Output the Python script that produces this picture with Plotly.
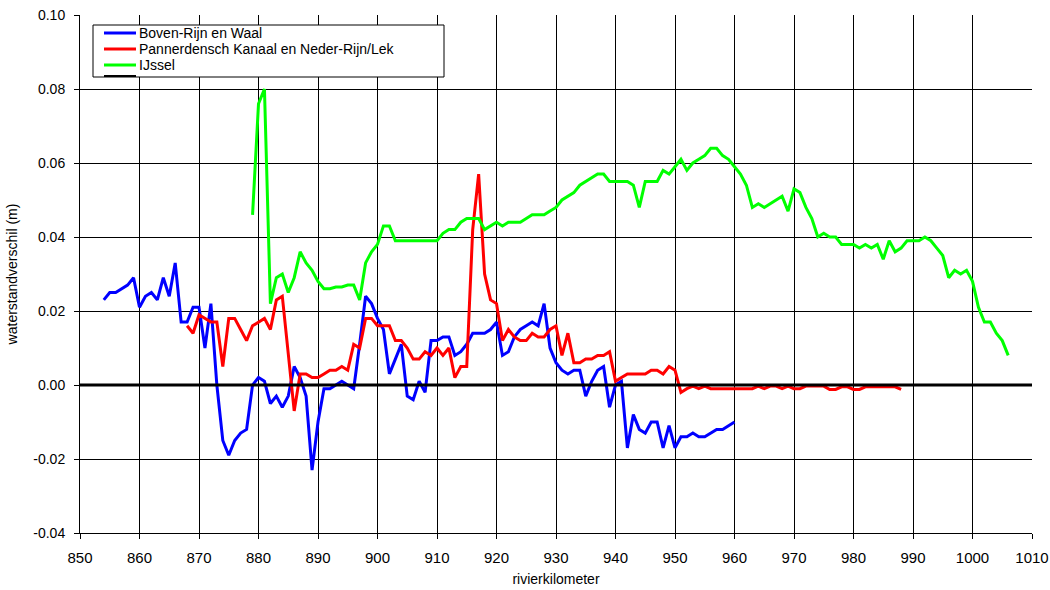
import plotly.graph_objects as go

# ---------------- data ----------------
boven_km = list(range(854, 961))
boven_val = [
    0.023, 0.025, 0.025, 0.026, 0.027, 0.029, 0.021, 0.024, 0.025, 0.023,
    0.029, 0.024, 0.033, 0.017, 0.017, 0.021, 0.021, 0.010, 0.022, 0.000,
    -0.015, -0.019, -0.015, -0.013, -0.012, 0.000, 0.002, 0.001, -0.005, -0.003,
    -0.006, -0.003, 0.005, 0.002, -0.003, -0.023, -0.010, -0.001, -0.001, 0.000,
    0.001, 0.000, -0.001, 0.011, 0.024, 0.022, 0.018, 0.015, 0.003, 0.007,
    0.011, -0.003, -0.004, 0.001, -0.002, 0.012, 0.012, 0.013, 0.013, 0.008,
    0.009, 0.011, 0.014, 0.014, 0.014, 0.015, 0.017, 0.008, 0.009, 0.013,
    0.015, 0.016, 0.017, 0.016, 0.022, 0.010, 0.006, 0.004, 0.003, 0.004,
    0.004, -0.003, 0.001, 0.004, 0.005, -0.006, 0.000, 0.001, -0.017, -0.008,
    -0.012, -0.013, -0.010, -0.010, -0.017, -0.011, -0.017, -0.014, -0.014, -0.013,
    -0.014, -0.014, -0.013, -0.012, -0.012, -0.011, -0.010,
]

pannerden_km = list(range(868, 989))
pannerden_val = [
    0.016, 0.014, 0.019, 0.018, 0.017, 0.017, 0.005, 0.018, 0.018, 0.015,
    0.012, 0.016, 0.017, 0.018, 0.015, 0.023, 0.024, 0.009, -0.007, 0.003,
    0.003, 0.002, 0.002, 0.003, 0.004, 0.004, 0.005, 0.004, 0.011, 0.010,
    0.018, 0.018, 0.016, 0.016, 0.016, 0.012, 0.012, 0.010, 0.007, 0.007,
    0.009, 0.008, 0.010, 0.008, 0.010, 0.002, 0.005, 0.005, 0.042, 0.057,
    0.030, 0.023, 0.022, 0.012, 0.015, 0.013, 0.012, 0.012, 0.014, 0.013,
    0.013, 0.015, 0.016, 0.008, 0.014, 0.006, 0.006, 0.007, 0.007, 0.008,
    0.008, 0.009, 0.001, 0.002, 0.003, 0.003, 0.003, 0.003, 0.004, 0.004,
    0.003, 0.005, 0.004, -0.002, -0.001, -0.0003, -0.001, -0.0003, -0.001, -0.001,
    -0.001, -0.001, -0.001, -0.001, -0.001, -0.001, -0.0003, -0.001, -0.0003, -0.0003,
    -0.001, -0.0003, -0.001, -0.001, -0.0003, -0.0003, -0.0003, -0.0003, -0.0012, -0.0012,
    -0.0005, -0.0005, -0.0012, -0.0012, -0.0005, -0.0005, -0.0005, -0.0005, -0.0005, -0.0005,
    -0.0012,
]

ijssel_km = list(range(879, 1007))
ijssel_val = [
    0.046, 0.076, 0.080, 0.022, 0.029, 0.030, 0.025, 0.029, 0.036, 0.033,
    0.031, 0.028, 0.026, 0.026, 0.0265, 0.0265, 0.027, 0.027, 0.023, 0.033,
    0.036, 0.038, 0.043, 0.043, 0.039, 0.039, 0.039, 0.039, 0.039, 0.039,
    0.039, 0.039, 0.041, 0.042, 0.042, 0.044, 0.045, 0.045, 0.045, 0.042,
    0.043, 0.044, 0.043, 0.044, 0.044, 0.044, 0.045, 0.046, 0.046, 0.046,
    0.047, 0.048, 0.050, 0.051, 0.052, 0.054, 0.055, 0.056, 0.057, 0.057,
    0.055, 0.055, 0.055, 0.055, 0.054, 0.048, 0.055, 0.055, 0.055, 0.058,
    0.057, 0.059, 0.061, 0.058, 0.060, 0.061, 0.062, 0.064, 0.064, 0.062,
    0.061, 0.059, 0.057, 0.054, 0.048, 0.049, 0.048, 0.049, 0.050, 0.051,
    0.047, 0.053, 0.052, 0.048, 0.045, 0.040, 0.041, 0.040, 0.040, 0.038,
    0.038, 0.038, 0.037, 0.038, 0.037, 0.038, 0.034, 0.039, 0.036, 0.037,
    0.039, 0.039, 0.039, 0.040, 0.039, 0.037, 0.035, 0.029, 0.031, 0.030,
    0.031, 0.028, 0.021, 0.017, 0.017, 0.014, 0.012, 0.008,
]

zero_km = [850, 1010]
zero_val = [0.0, 0.0]

series_names = ["Boven-Rijn en Waal", "Pannerdensch Kanaal en Neder-Rijn/Lek", "IJssel"]
series_colors = ["#0000FF", "#FF0000", "#00FF00"]

x_ticks = list(range(850, 1011, 10))
y_ticks = [-0.04, -0.02, 0.0, 0.02, 0.04, 0.06, 0.08, 0.10]
y_ticktext = ["-0.04", "-0.02", "0.00", "0.02", "0.04", "0.06", "0.08", "0.10"]

# ---------------- figure ----------------
W, H = 1050, 590
L, R, T, B = 80, 18, 15, 57
pw, ph = W - L - R, H - T - B

FONT = "'Liberation Sans', Arial, sans-serif"

fig = go.Figure()
for km, val, name, col in zip([boven_km, pannerden_km, ijssel_km],
                              [boven_val, pannerden_val, ijssel_val],
                              series_names, series_colors):
    fig.add_trace(go.Scatter(x=km, y=val, mode="lines", name=name,
                             line=dict(color=col, width=3), showlegend=False,
                             hoverinfo="skip"))
fig.add_trace(go.Scatter(x=zero_km, y=zero_val, mode="lines", name="",
                         line=dict(color="black", width=3), showlegend=False,
                         hoverinfo="skip"))

# manual legend (compact, like the original)
def px2paper(px, py):
    return (px - L) / pw, (H - B - py) / ph

shapes = []
annots = []
bx0, by0 = px2paper(93, 25)
bx1, by1 = px2paper(444, 77)
shapes.append(dict(type="rect", xref="paper", yref="paper", x0=bx0, y0=by1, x1=bx1, y1=by0,
                   line=dict(color="black", width=1), fillcolor="white", layer="above"))
rows_py = [33, 49, 65]
for py, name, col in zip(rows_py, series_names, series_colors):
    sx0, sy = px2paper(104, py)
    sx1, _ = px2paper(136, py)
    shapes.append(dict(type="line", xref="paper", yref="paper", x0=sx0, x1=sx1, y0=sy, y1=sy,
                       line=dict(color=col, width=3), layer="above"))
    tx, _ = px2paper(138, py)
    annots.append(dict(xref="paper", yref="paper", x=tx, y=sy, text=name, showarrow=False,
                       xanchor="left", yanchor="middle", borderpad=0,
                       font=dict(family=FONT, size=14, color="black")))
sx0, sy = px2paper(104, 76)
sx1, _ = px2paper(136, 76)
shapes.append(dict(type="line", xref="paper", yref="paper", x0=sx0, x1=sx1, y0=sy, y1=sy,
                   line=dict(color="black", width=2), layer="above"))

fig.update_layout(
    width=W, height=H, autosize=False,
    margin=dict(l=L, r=R, t=T, b=B, pad=0, autoexpand=False),
    paper_bgcolor="white", plot_bgcolor="white",
    font=dict(family=FONT, size=14, color="black"),
    shapes=shapes, annotations=annots,
    showlegend=False, hovermode=False,
)
fig.update_xaxes(
    range=[850, 1010], tickvals=x_ticks, ticktext=[str(v) for v in x_ticks],
    showgrid=True, gridcolor="black", gridwidth=1, automargin=False,
    showline=True, linecolor="black", linewidth=1, mirror=False,
    ticks="outside", ticklen=5, tickcolor="black", tickwidth=1,
    zeroline=False, tickfont=dict(size=15), ticklabelstandoff=6,
    title=dict(text="rivierkilometer", font=dict(size=14), standoff=9),
)
fig.update_yaxes(
    range=[-0.04, 0.10], tickvals=y_ticks, ticktext=y_ticktext,
    showgrid=True, gridcolor="black", gridwidth=1, automargin=False,
    showline=True, linecolor="black", linewidth=1, mirror=False,
    ticks="outside", ticklen=5, tickcolor="black", tickwidth=1,
    zeroline=False, tickfont=dict(size=14), ticklabelstandoff=6,
    title=dict(text="waterstandverschil (m)", font=dict(size=14), standoff=12),
)

fig.write_html(
    "out.html",
    config={"displayModeBar": False, "staticPlot": True},
    post_script="document.body.style.margin='0';document.body.style.padding='0';"
                "document.documentElement.style.overflow='hidden';document.body.style.overflow='hidden';",
)
